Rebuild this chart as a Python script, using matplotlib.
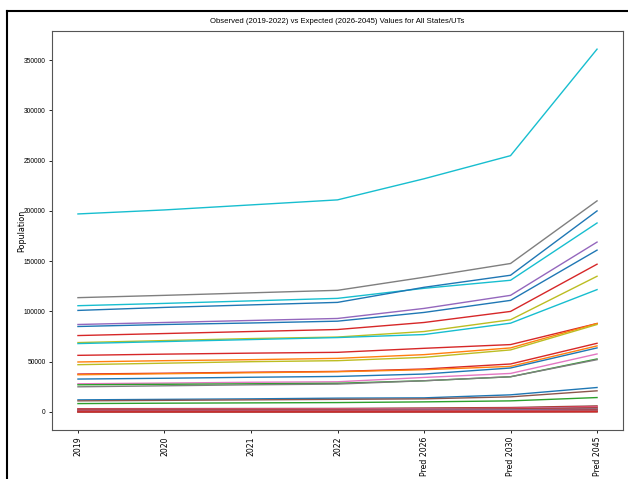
import matplotlib
matplotlib.use('Agg')
import matplotlib.pyplot as plt
from matplotlib.lines import Line2D

plt.rcParams['font.family'] = ['Liberation Sans', 'DejaVu Sans']

years = ['2019', '2020', '2021', '2022', 'Pred 2026', 'Pred 2030', 'Pred 2045']

# population per state/UT
s01 = [197000, 201000, 206000, 211000, 232000, 255000, 361000]
s02 = [113700, 116000, 118500, 121000, 134000, 147700, 210000]
s03 = [105700, 108000, 110500, 113000, 123000, 131000, 188000]
s04 = [101000, 104000, 106500, 109000, 124000, 136000, 200000]
s05 = [87000, 89000, 91000, 93000, 103000, 116000, 169000]
s06 = [85000, 87000, 88500, 90300, 99000, 111000, 161000]
s07 = [76000, 78000, 80000, 82000, 89000, 100000, 147000]
s08 = [69000, 71000, 73000, 74500, 80000, 91700, 135000]
s09 = [68000, 70000, 72000, 74000, 77000, 88300, 121700]
s10 = [56300, 57500, 58500, 59300, 63300, 67000, 88000]
s11 = [49700, 51000, 52000, 53300, 57000, 63700, 88000]
s12 = [47000, 48500, 50000, 51000, 54300, 61700, 87000]
s13 = [37700, 38500, 39500, 40300, 42700, 47700, 68300]
s14 = [37000, 38000, 39000, 40000, 42000, 45300, 65700]
s15 = [32700, 33500, 34500, 35300, 37700, 43700, 63700]
s16 = [28000, 28700, 29500, 30000, 34300, 38300, 57700]
s17 = [27000, 27500, 28000, 28500, 31000, 35000, 52700]
s18 = [25000, 26000, 27000, 27700, 31000, 35000, 52000]
s19 = [12000, 12500, 13000, 13700, 14000, 17000, 24300]
s20 = [11000, 11500, 12000, 12500, 13000, 15000, 21000]
s21 = [8300, 8700, 9000, 9300, 10000, 11000, 14300]
s22 = [3200, 3300, 3400, 3500, 3900, 4400, 6000]
s23 = [2800, 2900, 3000, 3100, 3400, 3900, 5400]
s24 = [2400, 2500, 2600, 2700, 3000, 3400, 4800]
s25 = [2000, 2100, 2200, 2300, 2600, 3000, 4200]
s26 = [1700, 1750, 1800, 1900, 2200, 2500, 3600]
s27 = [1400, 1450, 1500, 1550, 1800, 2100, 3000]
s28 = [1100, 1150, 1200, 1250, 1450, 1700, 2500]
s29 = [900, 930, 960, 1000, 1150, 1350, 2000]
s30 = [700, 720, 750, 780, 900, 1050, 1600]
s31 = [500, 520, 540, 560, 650, 760, 1200]
s32 = [350, 360, 370, 380, 440, 520, 850]
s33 = [250, 255, 260, 270, 310, 370, 600]
s34 = [150, 155, 160, 165, 190, 230, 380]
s35 = [100, 102, 104, 106, 120, 140, 230]
s36 = [60, 62, 64, 66, 75, 90, 150]

series = [s01, s02, s03, s04, s05, s06, s07, s08, s09, s10, s11, s12,
          s13, s14, s15, s16, s17, s18, s19, s20, s21, s22, s23, s24,
          s25, s26, s27, s28, s29, s30, s31, s32, s33, s34, s35, s36]
colors = ['tab:cyan', 'tab:gray', 'tab:cyan', 'tab:blue', 'tab:purple', 'tab:blue',
          'tab:red', 'tab:olive', 'tab:cyan', 'tab:red', 'tab:orange', 'tab:olive',
          'tab:red', 'tab:orange', 'tab:blue', 'tab:pink', 'tab:green', 'tab:gray',
          'tab:blue', 'tab:brown', 'tab:green', 'tab:brown', 'tab:red', 'tab:pink',
          'tab:brown', 'tab:red', 'tab:gray', 'tab:purple', 'tab:brown', 'tab:red',
          'tab:pink', 'tab:brown', 'tab:red', 'tab:gray', 'tab:brown', 'tab:red']

fig = plt.figure(figsize=(6.28, 4.79), dpi=100)
ax = fig.add_axes([52 / 628, 1 - 430 / 479, 571 / 628, 399 / 479])

for vals, c in zip(series, colors):
    ax.plot(years, vals, color=c, linewidth=1.0)

ax.set_title('Observed (2019-2022) vs Expected (2026-2045) Values for All States/UTs',
             fontsize=5.6, pad=6)
ax.set_ylabel('Population', fontsize=5.8, family='DejaVu Sans')
ax.yaxis.set_label_coords(-26 / 571, 0.5)
ax.tick_params(axis='x', labelsize=5.6, rotation=90, length=2.5, width=0.6, pad=2)
for t in ax.get_xticklabels():
    t.set_family('DejaVu Sans')
ax.tick_params(axis='y', labelsize=4.8, length=2.5, width=0.6, pad=2)
for sp in ax.spines.values():
    sp.set_color('#555555')
    sp.set_linewidth(0.8)

# black frame of the screenshot (left and top edges)
fig.add_artist(Line2D([6.5 / 628, 6.5 / 628], [0, 1 - 11 / 479], transform=fig.transFigure,
                      color='black', linewidth=1.5))
fig.add_artist(Line2D([6.5 / 628, 1], [1 - 11 / 479, 1 - 11 / 479], transform=fig.transFigure,
                      color='black', linewidth=1.5))

fig.savefig('out.png', dpi=100)
